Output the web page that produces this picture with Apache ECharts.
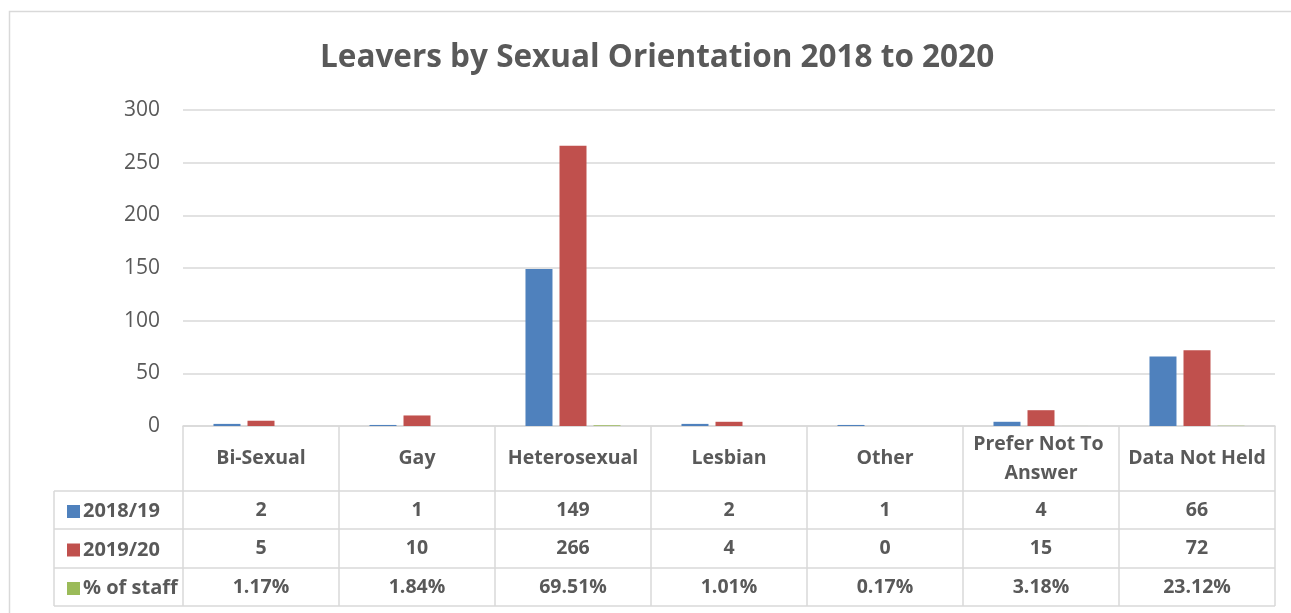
<!DOCTYPE html>
<html>
<head>
<meta charset="utf-8">
<script src="https://cdn.jsdelivr.net/npm/echarts@6/dist/echarts.min.js"></script>
<style>
html,body{margin:0;padding:0;background:#fff;}
#c{width:1291px;height:613px;}
</style>
</head>
<body>
<div id="c"></div>
<script>
const categories = ['Bi-Sexual', 'Gay', 'Heterosexual', 'Lesbian', 'Other', 'Prefer Not To Answer', 'Data Not Held'];
const seriesNames = ['2018/19', '2019/20', '% of staff'];
const leavers1819 = [2, 1, 149, 2, 1, 4, 66];
const leavers1920 = [5, 10, 266, 4, 0, 15, 72];
const pctStaff = [1.17, 1.84, 69.51, 1.01, 0.17, 3.18, 23.12];
const yTicks = { min: 0, max: 300, interval: 50 };

const W = 1291, H = 613;
const G = { left: 183, right: 16, top: 110, bottom: 187 };
const rowH = [65, 38, 39, 38];           // header row + 3 data rows
const tableLeft = 54;
const gridCol = '#d9d9d9';
const txt = '#595959';
const FONT = '"Open Sans", sans-serif';

const plotBottom = H - G.bottom;
const colW = (W - G.left - G.right) / categories.length;
const rowTops = [plotBottom];
for (let i = 0; i < rowH.length; i++) rowTops.push(rowTops[i] + rowH[i]);

function rowAxis(arr, rowIdx, fmt) {
  const center = (rowTops[rowIdx] + rowTops[rowIdx + 1]) / 2;
  return {
    type: 'category', data: categories, position: 'bottom', gridIndex: 0,
    axisLine: { show: false }, axisTick: { show: false }, splitLine: { show: false },
    axisLabel: {
      interval: 0, margin: center - plotBottom, verticalAlign: 'middle',
      color: txt, fontFamily: FONT, fontWeight: 'bold', fontSize: 19.5,
      formatter: (v, i) => fmt(arr[i])
    }
  };
}

const graphics = [];
graphics.push({ type: 'rect', shape: { x: 9.5, y: 11.5, width: 1400, height: 800 },
  style: { fill: 'none', stroke: gridCol, lineWidth: 1.5 }, silent: true });
for (let r = 1; r < rowTops.length; r++) {
  graphics.push({ type: 'line', shape: { x1: tableLeft, y1: rowTops[r], x2: W - G.right, y2: rowTops[r] },
    style: { stroke: gridCol, lineWidth: 1.5 }, silent: true });
}
for (let c = 0; c <= categories.length; c++) {
  const x = G.left + c * colW;
  graphics.push({ type: 'line', shape: { x1: x, y1: plotBottom, x2: x, y2: rowTops[rowTops.length - 1] },
    style: { stroke: gridCol, lineWidth: 1.5 }, silent: true });
}
graphics.push({ type: 'line', shape: { x1: tableLeft, y1: rowTops[1], x2: tableLeft, y2: rowTops[rowTops.length - 1] },
  style: { stroke: gridCol, lineWidth: 1.5 }, silent: true });

const chart = echarts.init(document.getElementById('c'), null, { renderer: 'canvas' });
chart.setOption({
  animation: false,
  backgroundColor: '#fff',
  color: ['#4F81BD', '#C0504D', '#9BBB59'],
  title: {
    text: 'Leavers by Sexual Orientation 2018 to 2020',
    left: 320, top: 42, padding: 0,
    textStyle: { color: txt, fontFamily: FONT, fontWeight: 'bold', fontSize: 31.5 }
  },
  legend: {
    orient: 'vertical', left: 62, top: rowTops[1] + 5,
    icon: 'rect', itemWidth: 13, itemHeight: 13, itemGap: 17.5,
    textStyle: { color: txt, fontFamily: FONT, fontWeight: 'bold', fontSize: 20, lineHeight: 21, padding: [0, 0, 0, -2] },
    data: seriesNames, selectedMode: false
  },
  grid: { left: G.left, right: G.right, top: G.top, bottom: G.bottom, containLabel: false, outerBoundsMode: 'none' },
  xAxis: [
    {
      type: 'category', data: categories, position: 'bottom',
      axisLine: { show: true, lineStyle: { color: gridCol, width: 1.5 } },
      axisTick: { show: false },
      axisLabel: {
        interval: 0, margin: rowH[0] / 2, verticalAlign: 'middle', align: 'center',
        color: txt, fontFamily: FONT, fontWeight: 'bold', fontSize: 19.5, lineHeight: 29,
        width: 145, overflow: 'break'
      }
    },
    rowAxis(leavers1819, 1, v => String(v)),
    rowAxis(leavers1920, 2, v => String(v)),
    rowAxis(pctStaff, 3, v => v.toFixed(2) + '%')
  ],
  yAxis: {
    type: 'value', min: yTicks.min, max: yTicks.max, interval: yTicks.interval,
    axisLine: { show: false }, axisTick: { show: false },
    axisLabel: { color: txt, fontFamily: FONT, fontSize: 21, margin: 23 },
    splitLine: { lineStyle: { color: gridCol, width: 1.5 } }
  },
  series: [
    { name: seriesNames[0], type: 'bar', data: leavers1819, barWidth: 27, barGap: '26%' },
    { name: seriesNames[1], type: 'bar', data: leavers1920, barWidth: 27, barGap: '26%' },
    { name: seriesNames[2], type: 'bar', data: pctStaff.map(v => v / 100), barWidth: 27, barGap: '26%' }
  ],
  graphic: graphics
});
</script>
</body>
</html>
